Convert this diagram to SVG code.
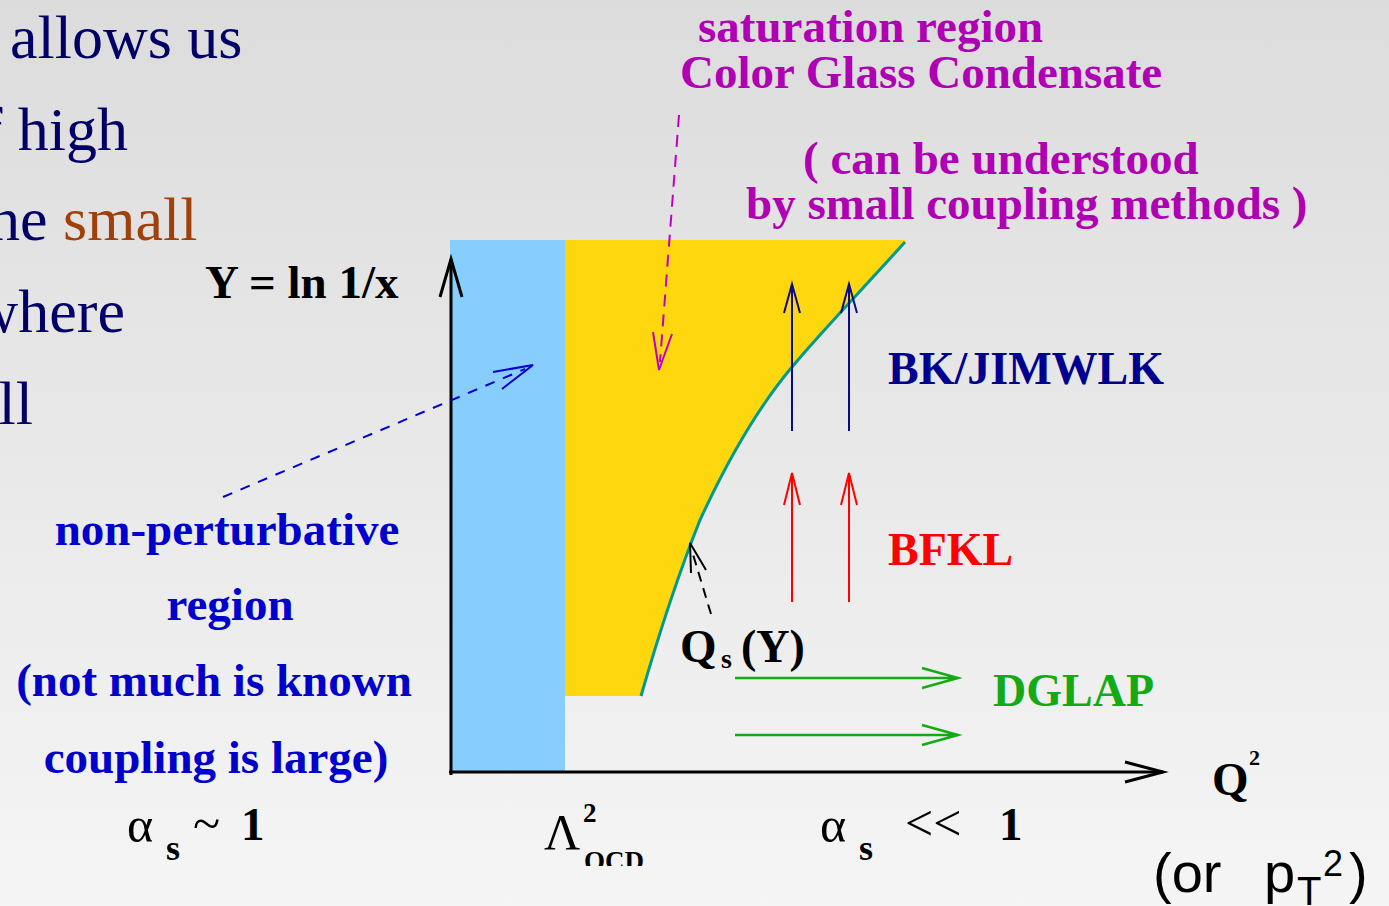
<svg xmlns="http://www.w3.org/2000/svg" width="1389" height="906" viewBox="0 0 1389 906">
<defs>
<linearGradient id="bg" x1="0" y1="0" x2="0" y2="1">
<stop offset="0" stop-color="#dcdcdc"/>
<stop offset="1" stop-color="#f5f5f5"/>
</linearGradient>
<clipPath id="qcdclip"><rect x="570" y="840" width="100" height="26"/></clipPath>
<style>
.b{font-family:"Liberation Serif","Times New Roman",serif;font-weight:bold}
.r{font-family:"Liberation Serif","Times New Roman",serif;font-weight:normal}
.s{font-family:"Liberation Sans",Arial,sans-serif}
.lt{font-size:62px;fill:#000066}
.mag{fill:#b000b4;font-size:47px}
.np{fill:#0000cc;font-size:47px;text-anchor:middle}
.ax{stroke:#000;stroke-width:3;fill:none}
.nv{stroke:#0a0a8c;stroke-width:2;fill:none}
.rd{stroke:#ff0000;stroke-width:2;fill:none}
.gr{stroke:#14aa14;stroke-width:2.5;fill:none}
</style>
</defs>
<rect width="1389" height="906" fill="url(#bg)"/>

<g id="left-text" class="r lt">
<text x="10" y="58">allows us</text>
<text x="128" y="150" text-anchor="end">f high</text>
<text x="-11" y="240"><tspan>he </tspan><tspan fill="#a0400a">small</tspan></text>
<text x="125" y="332" text-anchor="end">where</text>
<text x="33" y="424" text-anchor="end">ll</text>
</g>

<g id="nonpert-region">
<rect x="450" y="240" width="115" height="532" fill="#87cefe"/>
</g>
<g id="saturation-region">
<path d="M565,696 L641,696 C660,630 680,570 700,520 C730,455 760,405 792,367 C820,333 860,292 905,242 L905,240 L565,240 Z" fill="#ffd70f"/>
<path d="M641,696 C660,630 680,570 700,520 C730,455 760,405 792,367 C820,333 860,292 905,242" fill="none" stroke="#009a8e" stroke-width="3"/>
</g>

<g id="connectors">
<g id="axes" class="ax">
<path d="M451,775 L451,259"/>
<path d="M440,297 L451,259 L462,297"/>
<path d="M449,772 L1163,772"/>
<path d="M1125,762 L1163,772 L1125,782"/>
</g>
<g id="bk-arrows" class="nv">
<path d="M792,431 L792,284 M784,313 L792,284 L800,313"/>
<path d="M849,431 L849,284 M841,313 L849,284 L857,313"/>
</g>
<g id="bfkl-arrows" class="rd">
<path d="M792,602 L792,473 M784,505 L792,473 L800,505"/>
<path d="M849,602 L849,473 M841,505 L849,473 L857,505"/>
</g>
<g id="dglap-arrows" class="gr">
<path d="M735,678 L958,678 M922,668 L958,678 L922,688"/>
<path d="M735,735 L958,735 M922,725 L958,735 L922,745"/>
</g>
<g id="sat-pointer" stroke="#c000c0" stroke-width="2" fill="none">
<path d="M679,115 L660,362" stroke-dasharray="12,8"/>
<path d="M653,332 L659,370 L672,334"/>
</g>
<g id="np-pointer" stroke="#0000d0" stroke-width="2" fill="none">
<path d="M223,497 L525,369" stroke-dasharray="10,9"/>
<path d="M493,372 L533,365 L502,389"/>
</g>
<g id="qs-pointer" stroke="#000" stroke-width="2" fill="none">
<path d="M711,614 L692,551" stroke-dasharray="10,7"/>
<path d="M691,573 L690,543 L706,570"/>
</g>
</g>

<g id="label-saturation" class="b mag">
<text x="698" y="42">saturation region</text>
<text x="680" y="88">Color Glass Condensate</text>
<text x="803" y="174">( can be understood</text>
<text x="746" y="219">by small coupling methods )</text>
</g>

<g id="label-y-axis"><text class="b" x="205" y="298" font-size="47" fill="#000">Y = ln 1/x</text></g>
<g id="label-bk"><text class="b" x="888" y="384" font-size="46" fill="#000090">BK/JIMWLK</text></g>
<g id="label-bfkl"><text class="b" x="888" y="565" font-size="46" fill="#ff0000">BFKL</text></g>
<g id="label-dglap"><text class="b" x="993" y="706" font-size="46" fill="#14aa14">DGLAP</text></g>
<g id="label-qs">
<text class="b" x="680" y="662" font-size="47" fill="#000">Q</text>
<text class="b" x="721" y="668" font-size="28" fill="#000">s</text>
<text class="b" x="741" y="662" font-size="46" fill="#000">(Y)</text>
</g>
<g id="label-q2">
<text class="b" x="1212" y="795" font-size="47" fill="#000">Q</text>
<text class="b" x="1249" y="765" font-size="22" fill="#000">2</text>
</g>

<g id="label-nonpert" class="b np">
<text x="227" y="545">non-perturbative</text>
<text x="230" y="620">region</text>
<text x="214" y="696">(not much is known</text>
<text x="216" y="773">coupling is large)</text>
</g>

<g id="label-alpha-large" fill="#000">
<text class="r" x="127" y="842" font-size="50">α</text>
<text class="b" x="166" y="860" font-size="36">s</text>
<text class="r" x="193" y="840" font-size="50">~</text>
<text class="b" x="241" y="840" font-size="47">1</text>
</g>
<g id="label-lambda" fill="#000">
<text class="r" x="544" y="849" font-size="50">Λ</text>
<text class="b" x="583" y="822" font-size="27">2</text>
<text class="b" x="584" y="870" font-size="27" clip-path="url(#qcdclip)">QCD</text>
</g>
<g id="label-alpha-small" fill="#000">
<text class="r" x="820" y="842" font-size="50">α</text>
<text class="b" x="859" y="860" font-size="36">s</text>
<text class="r" x="905" y="840" font-size="50">&lt;&lt;</text>
<text class="b" x="999" y="840" font-size="47">1</text>
</g>
<g id="label-pt" class="s" fill="#000">
<text x="1153" y="892" font-size="56">(or</text>
<text x="1264" y="892" font-size="56">p</text>
<text x="1297" y="905" font-size="40">T</text>
<text x="1323" y="876" font-size="36">2</text>
<text x="1349" y="892" font-size="56">)</text>
</g>
</svg>
